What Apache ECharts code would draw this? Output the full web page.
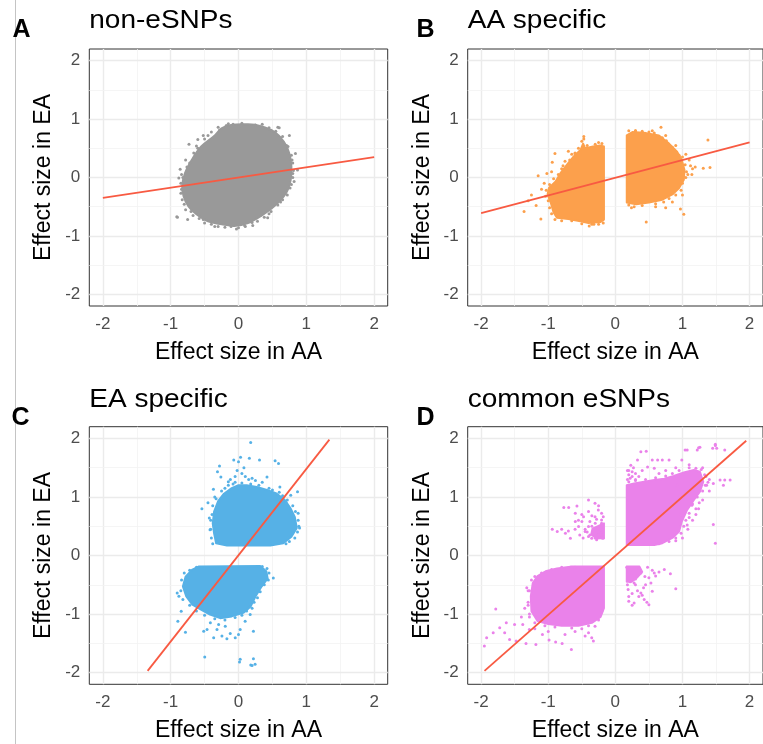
<!DOCTYPE html>
<html>
<head>
<meta charset="utf-8">
<script src="https://cdn.jsdelivr.net/npm/echarts@6/dist/echarts.min.js"></script>
<style>html,body{margin:0;padding:0;background:#fff;}#chart{width:763px;height:744px;}</style>
</head>
<body>
<div id="chart"></div>
<script>
// ---------- data ----------
const xTicks = [-2, -1, 0, 1, 2];
const yTicks = [-2, -1, 0, 1, 2];
const minorTicks = [-1.5, -0.5, 0.5, 1.5];
const panelTitles = ['non-eSNPs', 'AA specific', 'EA specific', 'common eSNPs'];
const panelLetters = ['A', 'B', 'C', 'D'];
const xName = 'Effect size in AA';
const yName = 'Effect size in EA';

// fitted lines (end points)
const nonFit = [[-2, -0.35], [2, 0.35]];
const aaFit = [[-2, -0.61], [2, 0.6]];
const eaFit = [[-1.34, -1.97], [1.34, 1.98]];
const comFit = [[-1.95, -1.97], [1.95, 1.96]];

// dense cloud outlines (estimated)
const nonCore = [[-0.25,0.84],[-0.35,0.72],[-0.55,0.53],[-0.69,0.3],[-0.79,0.07],[-0.83,-0.15],[-0.81,-0.32],[-0.74,-0.49],[-0.62,-0.63],[-0.45,-0.75],[-0.25,-0.8],[-0.06,-0.83],[0.14,-0.78],[0.33,-0.66],[0.53,-0.49],[0.7,-0.27],[0.77,-0.04],[0.78,0.19],[0.75,0.41],[0.67,0.61],[0.53,0.78],[0.33,0.88],[0.14,0.91],[-0.11,0.9]];
const aaLeftCore = [[-0.17,0.53],[-0.17,-0.72],[-0.22,-0.76],[-0.4,-0.78],[-0.52,-0.75],[-0.7,-0.71],[-0.87,-0.69],[-0.92,-0.6],[-0.96,-0.44],[-1.01,-0.29],[-0.99,-0.18],[-0.89,-0.07],[-0.82,0.07],[-0.72,0.22],[-0.62,0.36],[-0.52,0.47],[-0.48,0.58],[-0.45,0.5],[-0.33,0.53],[-0.23,0.55]];
const aaRightCore = [[0.17,0.72],[0.26,0.78],[0.46,0.76],[0.65,0.72],[0.8,0.58],[0.92,0.44],[0.99,0.3],[1.03,0.13],[1.02,-0.04],[0.95,-0.18],[0.85,-0.29],[0.7,-0.38],[0.5,-0.43],[0.31,-0.46],[0.17,-0.43]];
const eaUpperCore = [[-0.33,0.21],[-0.17,0.17],[0.47,0.17],[0.66,0.21],[0.78,0.32],[0.86,0.47],[0.83,0.66],[0.77,0.8],[0.68,0.95],[0.56,1.06],[0.42,1.12],[0.27,1.17],[0.12,1.2],[0.0,1.2],[-0.1,1.15],[-0.22,1.05],[-0.3,0.93],[-0.36,0.75],[-0.38,0.55],[-0.36,0.38]];
const eaLowerCore = [[-0.59,-0.19],[0.32,-0.18],[0.41,-0.27],[0.43,-0.39],[0.34,-0.53],[0.25,-0.7],[0.18,-0.87],[0.07,-0.98],[-0.1,-1.04],[-0.27,-1.07],[-0.42,-1.01],[-0.56,-0.92],[-0.68,-0.84],[-0.77,-0.7],[-0.82,-0.53],[-0.78,-0.36],[-0.68,-0.24]];
const comUpperCore = [[0.17,1.2],[0.28,1.23],[0.43,1.26],[0.58,1.29],[0.73,1.31],[0.87,1.36],[1.02,1.42],[1.17,1.46],[1.26,1.43],[1.31,1.26],[1.26,1.09],[1.17,0.95],[1.07,0.78],[0.99,0.58],[0.95,0.41],[0.85,0.3],[0.7,0.21],[0.58,0.18],[0.17,0.18]];
const comLowerCore = [[-0.17,-0.19],[-0.17,-0.9],[-0.22,-1.05],[-0.35,-1.15],[-0.55,-1.2],[-0.8,-1.2],[-1.0,-1.17],[-1.16,-1.12],[-1.25,-0.95],[-1.26,-0.7],[-1.23,-0.47],[-1.16,-0.35],[-1.04,-0.27],[-0.87,-0.22],[-0.67,-0.19]];
const comUpLeftCore = [[-0.34,0.46],[-0.17,0.55],[-0.17,0.3],[-0.28,0.29],[-0.36,0.36]];
const comLowRightCore = [[0.17,-0.19],[0.36,-0.19],[0.4,-0.28],[0.32,-0.38],[0.24,-0.45],[0.17,-0.45]];

// individual scattered points (estimated)
const nonPts = [[-0.73,0.57],[-0.86,0.14],[-0.88,-0.01],[-0.91,-0.67],[-0.75,-0.72],[-0.6,0.65],[-0.52,0.72],[0.35,0.91],[0.58,0.86],[0.75,0.72],[0.84,0.41],[0.82,-0.07],[0.43,-0.69],[0.21,-0.82],[-0.03,-0.88],[-0.35,-0.84],[-0.18,0.89],[-0.08,0.91],[0.04,0.88],[0.23,0.89],[0.43,0.82],[-0.45,0.72],[-0.62,0.54],[-0.78,0.3],[-0.84,0.05],[-0.85,-0.27],[-0.8,-0.46],[-0.67,-0.65],[-0.5,-0.78],[-0.3,-0.84],[-0.11,-0.84],[0.09,-0.82],[0.28,-0.75],[0.48,-0.58],[0.65,-0.38],[0.76,-0.18],[0.8,0.07],[0.79,0.3],[0.73,0.53],[0.65,0.7],[0.48,0.81],[0.87,0.13],[0.6,0.85],[-0.9,-0.68],
  [-0.3,0.86],[-0.4,0.78],[-0.5,0.66],[-0.6,0.5],[-0.66,0.42],[-0.72,0.25],[-0.76,0.18],[-0.82,0.0],[-0.85,-0.1],[-0.84,-0.2],[-0.83,-0.38],[-0.78,-0.55],[-0.7,-0.58],[-0.58,-0.7],[-0.52,-0.72],[-0.4,-0.8],[-0.2,-0.85],[0.0,-0.86],[0.1,-0.84],[0.2,-0.77],[0.38,-0.68],[0.45,-0.62],[0.58,-0.47],[0.62,-0.42],[0.72,-0.3],[0.78,-0.12],[0.8,0.0],[0.81,0.12],[0.8,0.25],[0.78,0.38],[0.71,0.55],[0.62,0.68],[0.55,0.79],[0.45,0.85],[0.25,0.9],[0.05,0.93],[-0.15,0.92],[-0.28,0.81]];
const aaPts = [[-0.9,0.41],[-1.02,0.07],[-1.15,0.03],[-1.36,-0.58],[-1.11,-0.71],[-1.18,-0.48],[-1.06,-0.1],[-0.94,0.26],[-0.6,0.41],[-0.39,-0.83],[-0.47,0.7],[-1.25,-0.3],[-1.3,-0.4],[-1.1,-0.2],[-0.95,0.1],[-0.7,0.45],[-0.32,-0.8],[0.68,0.86],[0.75,0.72],[1.19,0.18],[1.31,0.16],[1.41,0.17],[1.38,0.64],[1.14,0.05],[1.02,-0.63],[0.97,-0.54],[0.46,-0.76],[0.24,-0.52],[0.75,-0.52],[0.85,-0.42],[1.1,0.3],[1.05,0.4],[0.9,0.55],[0.55,0.8],[0.3,0.8],[0.6,-0.5],
  [-0.5,0.62],[-0.47,0.66],[-0.42,0.55],[-0.3,0.57],[-0.2,0.58],[-0.25,0.6],[-0.55,0.5],[-0.65,0.4],[-0.75,0.28],[-0.8,0.15],[-0.85,0.05],[-0.92,-0.02],[-0.98,-0.12],[-1.03,-0.22],[-1.04,-0.32],[-1.0,-0.4],[-0.98,-0.52],[-0.95,-0.62],[-0.9,-0.72],[-0.8,-0.74],[-0.65,-0.74],[-0.5,-0.79],[-0.35,-0.8],[-0.25,-0.8],[-0.18,-0.78],[-0.6,0.42],[-0.68,0.3],[-0.78,0.2],
  [0.2,0.8],[0.3,0.8],[0.4,0.79],[0.5,0.78],[0.58,0.76],[0.7,0.68],[0.76,0.63],[0.85,0.52],[0.95,0.38],[1.0,0.35],[1.04,0.22],[1.06,0.1],[1.05,0.0],[1.0,-0.1],[0.98,-0.22],[0.9,-0.3],[0.8,-0.36],[0.72,-0.42],[0.6,-0.45],[0.4,-0.48],[0.28,-0.5],[0.2,-0.47],[1.08,0.05],[1.12,0.2],[1.15,0.15],[1.0,-0.3]];
const eaPts = [[0.18,1.93],[-0.07,1.63],[0.03,1.68],[0.0,1.6],[0.16,1.66],[0.31,1.63],[0.54,1.62],[0.59,1.57],[-0.28,1.53],[-0.31,1.43],[-0.26,1.34],[-0.15,1.26],[-0.37,1.13],[-0.54,0.8],[-0.43,0.64],[-0.42,0.44],[0.88,0.72],[0.9,0.47],[0.77,1.03],[0.87,1.09],[0.42,1.34],[0.61,1.17],[0.05,1.4],[0.1,1.35],[-0.05,1.35],[0.15,1.3],[0.2,1.32],[-0.02,1.45],[0.08,1.5],[0.25,1.28],[0.35,1.25],[-0.12,1.3],[-0.2,1.15],[-0.35,1.0],[-0.45,0.9],[-0.05,1.25],[0.7,0.9],[0.8,0.6],
  [-0.38,0.2],[-0.4,0.3],[-0.41,0.45],[-0.41,0.6],[-0.39,0.7],[-0.38,0.85],[-0.33,0.97],[-0.25,1.1],[-0.15,1.2],[-0.08,1.22],[0.05,1.24],[0.18,1.22],[0.3,1.2],[0.45,1.15],[0.5,1.12],[0.6,1.08],[0.65,1.02],[0.72,0.95],[0.8,0.85],[0.84,0.75],[0.88,0.6],[0.89,0.5],[0.87,0.4],[0.83,0.3],[0.75,0.24],[0.7,0.2],
  [-0.62,-0.2],[-0.72,-0.25],[-0.8,-0.3],[-0.84,-0.42],[-0.85,-0.6],[-0.82,-0.75],[-0.72,-0.85],[-0.62,-0.95],[-0.5,-1.02],[-0.35,-1.08],[-0.2,-1.1],[-0.05,-1.06],[0.05,-1.02],[0.12,-0.95],[0.2,-0.9],[0.23,-0.8],[0.28,-0.72],[0.32,-0.62],[0.38,-0.5],[0.44,-0.42],[0.45,-0.3],[0.42,-0.22],[0.35,-0.19],
  [-0.415,-1.15],[-0.317,-1.264],[-0.244,-1.377],[-0.171,-1.422],[-0.048,-1.405],[0.025,-1.264],[0.098,-1.122],[-0.464,-1.264],[-0.366,-1.405],[-0.513,-1.292],[0.0,-1.349],[-0.122,-1.332],[-0.195,-1.207],[-0.293,-1.179],[0.172,-1.009],[0.22,-1.292],[-0.782,-1.309],[-0.894,-1.122],[-0.845,-0.952],[-0.879,-0.697],[-0.904,-0.641],[0.513,-0.385],[0.025,-1.773],[0.181,-1.87],[0.22,-1.763],[0.245,-1.859],[-0.498,-1.734],[0.2,-1.88],[0.015,-1.82]];
const comPts = [[1.45,1.83],[1.49,1.88],[1.26,1.85],[1.22,1.8],[1.04,1.8],[0.38,1.77],[0.46,1.78],[0.55,1.63],[0.63,1.63],[0.7,1.63],[0.8,1.63],[0.99,1.63],[0.48,1.51],[0.58,1.49],[1.63,1.8],[1.56,1.29],[1.61,1.2],[1.46,1.23],[1.36,1.2],[1.46,0.53],[1.14,0.86],[1.24,0.8],[1.07,0.52],[0.97,0.69],[0.33,1.63],[0.23,1.54],[0.22,1.32],[0.25,1.43],[0.92,1.2],[1.63,1.29],[1.71,1.29],[1.49,0.21],[1.07,1.8],[1.24,1.84],[1.49,1.9],[1.51,1.83],[0.3,1.4],[0.35,1.35],[0.4,1.45],[0.2,1.45],[0.27,1.5],[0.65,1.4],[0.75,1.45],[0.9,1.5],[1.1,1.55],[1.3,1.5],[1.35,1.35],[1.4,1.1],[1.3,0.95],[1.2,0.7],[1.1,0.65],[1.0,0.3],[0.9,0.25],
  [0.2,1.26],[0.3,1.28],[0.45,1.3],[0.6,1.33],[0.75,1.36],[0.85,1.4],[0.95,1.45],[1.1,1.5],[1.2,1.49],[1.28,1.47],[1.33,1.38],[1.34,1.2],[1.3,1.1],[1.22,1.0],[1.15,0.88],[1.1,0.72],[1.05,0.6],[1.02,0.5],[0.98,0.38],[0.9,0.3],[0.8,0.24],[0.65,0.2],[1.2,0.8],[1.25,0.9],[1.15,0.6],[1.08,0.45],[1.38,1.25],[1.4,1.3],[0.18,1.3],[0.2,1.38],[0.25,1.35],[0.18,1.45],[0.3,1.3],
  [-0.4,0.948],[-0.303,0.891],[-0.572,0.845],[-0.768,0.822],[-0.695,0.822],[-0.254,0.777],[-0.205,0.72],[-0.303,0.664],[-0.205,0.607],[-0.597,0.579],[-0.499,0.579],[-0.4,0.494],[-0.303,0.466],[-0.205,0.437],[-0.254,0.352],[-0.18,0.295],[-0.352,0.295],[-0.94,0.448],[-0.866,0.409],[-0.744,0.38],[-0.67,0.295],[-0.548,0.494],[-0.45,0.409],[-0.4,0.323],[-0.279,0.267],[-0.597,0.72],[-0.474,0.664],[-0.205,0.55],[-0.205,0.352],
  [-0.2,0.3],[-0.25,0.4],[-0.3,0.55],[-0.35,0.5],[-0.38,0.35],[-0.3,0.3],[-0.22,0.48],[-0.28,0.62],[-0.35,0.68],[-0.4,0.75],[-0.5,0.7],[-0.55,0.6],[-0.6,0.45],[-0.45,0.45],[-0.48,0.3],[-0.53,0.35],[-0.7,0.42],[-0.8,0.45],[-0.25,0.85],[-0.38,0.58],[-0.42,0.4],[-0.18,0.66],
  [0.48,-0.2],[0.58,-0.3],[0.73,-0.24],[0.82,-0.31],[0.53,-0.47],[0.55,-0.61],[0.38,-0.64],[0.43,-0.75],[0.5,-0.84],[0.28,-0.81],[0.19,-0.58],[0.9,-0.57],[0.45,-0.5],[0.35,-0.7],[0.47,-0.8],[0.25,-0.65],[0.6,-0.35],[0.65,-0.28],[0.2,-0.7],[0.3,-0.5],
  [0.17,-0.2],[0.25,-0.3],[0.3,-0.4],[0.22,-0.45],[0.38,-0.3],[0.35,-0.22],[0.55,-0.25],[0.5,-0.38],[0.42,-0.55],[0.33,-0.6],[0.4,-0.68],[0.2,-0.78],[0.25,-0.85],[0.18,-0.5],[0.44,-0.36],[0.28,-0.47],
  [-0.2,-0.95],[-0.25,-1.1],[-0.4,-1.2],[-0.5,-1.25],[-0.65,-1.24],[-0.9,-1.22],[-1.05,-1.2],[-1.2,-1.15],[-1.28,-1.0],[-1.3,-0.8],[-1.28,-0.6],[-1.25,-0.42],[-1.2,-0.36],[-1.1,-0.3],[-0.95,-0.24],[-0.8,-0.2],[-0.6,-0.2],[-1.35,-0.9],[-1.4,-1.05],[-1.32,-0.55],
  [-0.303,-1.207],[-0.4,-1.32],[-0.352,-1.405],[-0.327,-1.462],[-0.45,-1.377],[-0.655,-1.604],[-0.793,-1.501],[-0.89,-1.479],[-0.988,-1.445],[-1.184,-1.519],[-1.331,-1.501],[-1.478,-1.462],[-1.576,-1.434],[-1.649,-1.32],[-1.625,-1.15],[-1.723,-1.235],[-1.82,-1.32],[-1.918,-1.405],[-1.952,-1.547],[-1.782,-0.912],[-1.38,-1.178],[-1.502,-1.178],[-1.282,-1.263],[-1.086,-1.348],[-1.3,-0.6],[-1.3,-0.85],[-1.28,-1.05],[-0.6,-1.3],[-0.75,-1.35],[-1.0,-1.3],[-1.2,-1.25]];

// ---------- layout helpers ----------
const FONT = 'Liberation Sans, Arial, Helvetica, sans-serif';
const grids = [
  {left: 89.3, top: 49, width: 298.4, height: 257},
  {left: 467.7, top: 49, width: 299, height: 257},
  {left: 89.3, top: 426.7, width: 298.4, height: 257.6},
  {left: 467.7, top: 426.7, width: 299, height: 257.6}
];
const colors = ['#999999', '#FCA04C', '#56B1E6', '#EA82EA'];
const lineColor = '#F85A42';

function axisCommon(i, isX) {
  const ticks = isX ? xTicks : yTicks;
  return {
    gridIndex: i, type: 'value', min: -2.2, max: 2.2,
    axisLine: {show: false},
    axisTick: {show: true, customValues: ticks, length: 4, lineStyle: {color: '#333333', width: 1}},
    axisLabel: {customValues: ticks, fontSize: 17, color: '#4D4D4D', fontFamily: FONT, margin: isX ? 10 : 9},
    splitLine: {show: false},
    name: isX ? xName : yName,
    nameLocation: 'middle',
    nameGap: isX ? 35 : 34,
    nameTextStyle: {fontSize: 23, color: '#000', fontFamily: FONT}
  };
}

function gridLineSeries(i) {
  const major = {color: '#EBEBEB', width: 1.4, type: 'solid'};
  const minor = {color: '#F2F2F2', width: 0.8, type: 'solid'};
  const d = [];
  xTicks.forEach(v => d.push({xAxis: v, lineStyle: major}));
  minorTicks.forEach(v => d.push({xAxis: v, lineStyle: minor}));
  yTicks.forEach(v => d.push({yAxis: v, lineStyle: major}));
  minorTicks.forEach(v => d.push({yAxis: v, lineStyle: minor}));
  return {type: 'line', xAxisIndex: i, yAxisIndex: i, data: [], z: 1, silent: true,
    markLine: {z: 1, silent: true, symbol: ['none', 'none'], animation: false, label: {show: false}, emphasis: {disabled: true}, data: d}};
}

function polySeries(i, pts, color, smooth) {
  return {type: 'custom', xAxisIndex: i, yAxisIndex: i, z: 2, silent: true, animation: false,
    data: pts,
    renderItem: function (params, api) {
      if (params.context.rendered) return;
      params.context.rendered = true;
      const points = pts.map(p => api.coord(p));
      return {type: 'polygon', shape: {points: points, smooth: smooth || 0}, style: {fill: color, stroke: color, lineWidth: 2, lineJoin: 'round'}};
    }};
}

function ptsSeries(i, pts, color) {
  return {type: 'scatter', xAxisIndex: i, yAxisIndex: i, z: 3, silent: true, animation: false,
    symbol: 'circle', symbolSize: 3, itemStyle: {color: color, opacity: 1}, data: pts};
}

function fitSeries(i, pts) {
  return {type: 'line', xAxisIndex: i, yAxisIndex: i, z: 4, silent: true, animation: false,
    showSymbol: false, symbol: 'none', lineStyle: {color: lineColor, width: 1.8}, data: pts};
}

const cores = [[nonCore], [aaLeftCore, aaRightCore], [eaUpperCore, eaLowerCore], [comUpperCore, comLowerCore, comUpLeftCore, comLowRightCore]];
const smooths = [0.35, 0, 0, 0];
const ptsets = [nonPts, aaPts, eaPts, comPts];
const fits = [nonFit, aaFit, eaFit, comFit];

const series = [];
for (let i = 0; i < 4; i++) {
  series.push(gridLineSeries(i));
  cores[i].forEach(c => series.push(polySeries(i, c, colors[i], smooths[i])));
  series.push(ptsSeries(i, ptsets[i], colors[i]));
  series.push(fitSeries(i, fits[i]));
}

const titlePos = [[89.3, 21.5], [467.7, 21.5], [89.3, 399.8], [467.7, 399.8]];
const letterPos = [[12.5, 30], [416.5, 30.5], [11.5, 418.5], [416.5, 418.5]];
const graphics = [{type: 'line', shape: {x1: 15.5, y1: 0, x2: 15.5, y2: 744}, style: {stroke: '#C4C4C4', lineWidth: 1}, z: 10}];
for (let i = 0; i < 4; i++) {
  graphics.push({type: 'text', x: titlePos[i][0], y: titlePos[i][1], scaleX: 1.12, z: 10,
    style: {text: panelTitles[i], fontSize: 25, fontFamily: FONT, fill: '#000', align: 'left', verticalAlign: 'middle'}});
  graphics.push({type: 'text', x: letterPos[i][0], y: letterPos[i][1], z: 10,
    style: {text: panelLetters[i], fontSize: 25, fontWeight: 'bold', fontFamily: FONT, fill: '#000', align: 'left', verticalAlign: 'middle'}});
}

const option = {
  backgroundColor: '#ffffff',
  animation: false,
  grid: grids.map(g => Object.assign({show: true, backgroundColor: '#ffffff', borderColor: '#333333', borderWidth: 1, containLabel: false}, g)),
  xAxis: [0, 1, 2, 3].map(i => axisCommon(i, true)),
  yAxis: [0, 1, 2, 3].map(i => axisCommon(i, false)),
  series: series,
  graphic: graphics
};

const chart = echarts.init(document.getElementById('chart'), null, {renderer: 'canvas'});
chart.setOption(option);
</script>
</body>
</html>
